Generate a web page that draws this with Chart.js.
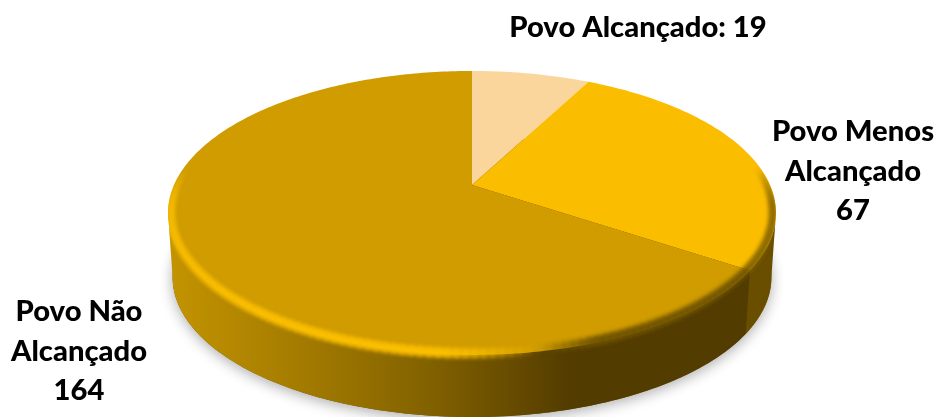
<!DOCTYPE html>
<html>
<head>
<meta charset="utf-8">
<style>
  html, body { margin: 0; padding: 0; background: #fff; }
  canvas { display: block; }
</style>
<script src="https://cdn.jsdelivr.net/npm/chart.js@4/dist/chart.umd.min.js"></script>
</head>
<body>
<canvas id="povosChart" width="938" height="417"></canvas>
<script>
const categories = ['Povo Alcançado', 'Povo Menos Alcançado', 'Povo Não Alcançado'];
const values = [19, 67, 164];
const faceColors = ['#fad59c', '#fbbd00', '#d09c00'];

// label text broken into lines, with where each block sits
const labelLines = [
  [categories[0] + ': ' + values[0]],
  ['Povo Menos', 'Alcançado', String(values[1])],
  ['Povo Não', 'Alcançado', String(values[2])]
];
const labelSpots = [[638, 28], [853, 132], [79, 312]];

// tilted disc: unit circle pushed through a perspective divide
const RX = 298, RY = 136.5, TILT = 0.197;
const WALL_DROP = 64.6, WALL_SCALE = 0.985;

function project(arc, angle, scale = 1, drop = 0) {
  const u = Math.cos(angle), v = -Math.sin(angle);
  const w = 1 + TILT * v;
  return [arc.x + RX * scale * u / w, arc.y - RY * scale * v / w + drop];
}

function traceArc(ctx, arc, from, to, scale, drop, first) {
  const steps = Math.max(2, Math.ceil(Math.abs(to - from) * 60));
  for (let i = 0; i <= steps; i++) {
    const p = project(arc, from + (to - from) * i / steps, scale, drop);
    if (first && i === 0) ctx.moveTo(p[0], p[1]);
    else ctx.lineTo(p[0], p[1]);
  }
}

function wallStyle(ctx, index) {
  if (index === 1) return '#6a4e00';
  const g = ctx.createLinearGradient(170, 0, 775, 0);
  g.addColorStop(0, '#c39300');
  g.addColorStop(0.2, '#a67d00');
  g.addColorStop(0.38, '#8a6800');
  g.addColorStop(0.5, '#745600');
  g.addColorStop(0.66, '#533c00');
  g.addColorStop(1, '#533c00');
  return g;
}

// rim colour along the front edge of the disc
function rimStyle(x, y, index) {
  const fade = Math.min(1, Math.max(0, (y - 168) / 35));
  if (index === 1) return { color: '#7d5f00', alpha: fade };
  if (x < 440) return { color: '#fcc000', alpha: fade };
  if (x < 540) return { color: '#fcc000', alpha: fade * (540 - x) / 100 };
  if (x < 600) return { color: '#6f5300', alpha: fade * (x - 540) / 60 };
  return { color: '#6f5300', alpha: fade };
}

const disc3d = {
  id: 'disc3d',
  beforeDatasetsDraw(chart) {
    const ctx = chart.ctx;
    const arcs = chart.getDatasetMeta(0).data;
    const c = arcs[0];
    // the wall runs between the two side tangent points of the disc
    const wallFrom = Math.asin(TILT), wallTo = Math.PI - wallFrom;
    const rimFrom = -0.6, rimTo = Math.PI + 0.6;

    ctx.save();

    // soft ground shadow under the disc
    ctx.save();
    ctx.shadowColor = 'rgba(0,0,0,0.33)';
    ctx.shadowBlur = 14;
    ctx.shadowOffsetY = 3;
    ctx.fillStyle = '#745600';
    ctx.beginPath();
    traceArc(ctx, c, 0, Math.PI * 2, WALL_SCALE, WALL_DROP, true);
    ctx.closePath();
    ctx.fill();
    ctx.restore();

    // side walls
    arcs.forEach((arc, i) => {
      const from = Math.max(arc.startAngle, wallFrom);
      const to = Math.min(arc.endAngle, wallTo);
      if (to <= from) return;
      ctx.beginPath();
      traceArc(ctx, arc, from, to, 1, 0, true);
      traceArc(ctx, arc, to, from, WALL_SCALE, WALL_DROP, false);
      ctx.closePath();
      ctx.fillStyle = wallStyle(ctx, i);
      ctx.fill();
    });

    // top face
    arcs.forEach((arc, i) => {
      ctx.beginPath();
      ctx.moveTo(arc.x, arc.y);
      traceArc(ctx, arc, arc.startAngle, arc.endAngle, 1, 0, false);
      ctx.closePath();
      ctx.fillStyle = faceColors[i];
      ctx.fill();
    });

    // bevel straddling the face edge, kept inside the disc silhouette
    ctx.save();
    ctx.beginPath();
    traceArc(ctx, c, wallTo, Math.PI * 2 + wallFrom, 1, 0, true);
    traceArc(ctx, c, wallFrom, wallTo, WALL_SCALE, WALL_DROP, false);
    ctx.closePath();
    ctx.clip();
    ctx.filter = 'blur(2px)';
    ctx.lineCap = 'butt';
    arcs.forEach((arc, i) => {
      const from = Math.max(arc.startAngle, rimFrom);
      const to = Math.min(arc.endAngle, rimTo);
      if (to <= from) return;
      const steps = Math.ceil((to - from) * 40);
      for (let s = 0; s < steps; s++) {
        const a = from + (to - from) * s / steps;
        const b = from + (to - from) * (s + 1) / steps + 0.01;
        const mid = project(arc, (a + b) / 2);
        const rim = rimStyle(mid[0], mid[1], i);
        if (rim.alpha <= 0) continue;
        // band is thicker along the front than at the sides
        ctx.lineWidth = 6 + 3 * Math.max(0, Math.sin((a + b) / 2));
        ctx.globalAlpha = rim.alpha;
        ctx.strokeStyle = rim.color;
        ctx.beginPath();
        traceArc(ctx, arc, a, b, 0.99, 0, true);
        ctx.stroke();
      }
    });
    ctx.restore();

    ctx.restore();
    return false;
  },
  afterDraw(chart) {
    const ctx = chart.ctx;
    ctx.save();
    ctx.fillStyle = '#000';
    ctx.font = '900 29.2px Lato';
    ctx.textAlign = 'center';
    ctx.textBaseline = 'middle';
    labelLines.forEach((lines, i) => {
      lines.forEach((line, j) => {
        ctx.fillText(line, labelSpots[i][0], labelSpots[i][1] + j * 39.5);
      });
    });
    ctx.restore();
  }
};

new Chart(document.getElementById('povosChart'), {
  type: 'pie',
  data: {
    labels: categories,
    datasets: [{ data: values, backgroundColor: faceColors, borderWidth: 0 }]
  },
  options: {
    responsive: false,
    animation: false,
    layout: { padding: { left: 6, right: 0, top: 0, bottom: 47 } },
    plugins: { legend: { display: false }, tooltip: { enabled: false } }
  },
  plugins: [disc3d]
});
</script>
</body>
</html>
